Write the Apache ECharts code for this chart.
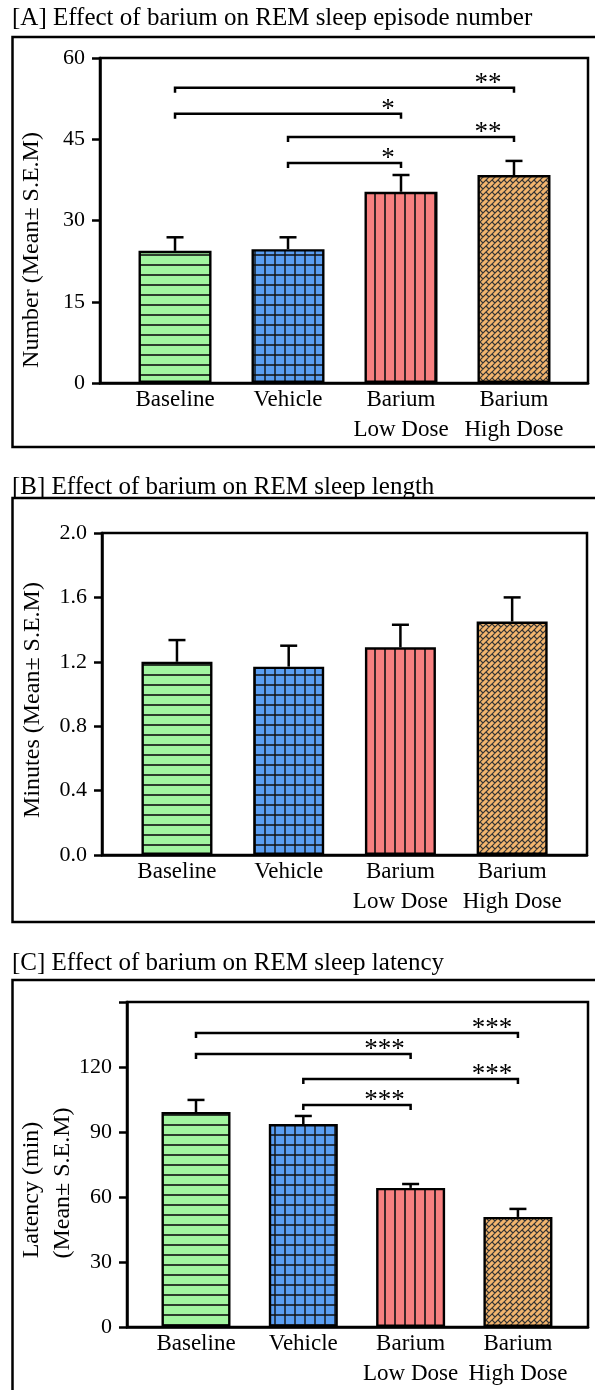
<!DOCTYPE html>
<html><head><meta charset="utf-8">
<script src="https://cdn.jsdelivr.net/npm/echarts@6/dist/echarts.min.js"></script>
<style>html,body{margin:0;padding:0;background:#fff}#c{width:595px;height:1390px}</style>
</head><body><div id="c"></div>
<script>
// ---------- data ----------
const categories = ['Baseline', 'Vehicle', 'Barium\nLow Dose', 'Barium\nHigh Dose'];
const panelTitles = [
  '[A] Effect of barium on REM sleep episode number',
  '[B] Effect of barium on REM sleep length',
  '[C] Effect of barium on REM sleep latency'
];
const axisNames = ['Number (Mean\u00b1 S.E.M)', 'Minutes (Mean\u00b1 S.E.M)', 'Latency (min)', '(Mean\u00b1 S.E.M)'];

const episodeMean = [24.4, 24.7, 35.3, 38.4];
const episodeSem  = [2.5, 2.2, 3.1, 2.6];
const lengthMean  = [1.20, 1.17, 1.29, 1.45];
const lengthSem   = [0.135, 0.13, 0.14, 0.15];
const latencyMean = [99.2, 93.7, 64.2, 50.8];
const latencySem  = [5.6, 3.7, 1.8, 3.7];

// significance brackets: [from category, to category, level, stars]
const episodeSig = [[0, 3, 54.5, '**'], [0, 2, 49.7, '*'], [1, 3, 45.4, '**'], [1, 2, 40.6, '*']];
const latencySig = [[0, 3, 135.7, '***'], [0, 2, 126, '***'], [1, 3, 114.5, '***'], [1, 2, 102.5, '***']];

const episodeAxis = {min: 0, max: 60, interval: 15};
const lengthAxis  = {min: 0, max: 2.0, interval: 0.4};
const latencyAxis = {min: 0, max: 150, interval: 30};

// ---------- styling ----------
const FONT = '"Liberation Serif", "Times New Roman", serif';

function pattern(w, h, fill, draw) {
  const c = document.createElement('canvas');
  c.width = w; c.height = h;
  const ctx = c.getContext('2d');
  ctx.fillStyle = fill; ctx.fillRect(0, 0, w, h);
  draw(ctx, w, h);
  return {image: c, repeat: 'repeat'};
}
const patHoriz = pattern(10, 10, '#a2f5a0', (ctx) => {
  ctx.strokeStyle = '#111'; ctx.lineWidth = 1.6;
  ctx.beginPath(); ctx.moveTo(0, 5); ctx.lineTo(10, 5); ctx.stroke();
});
const patGrid = pattern(10, 10, '#5a9ef2', (ctx) => {
  ctx.strokeStyle = '#111'; ctx.lineWidth = 1.4;
  ctx.beginPath(); ctx.moveTo(0, 5); ctx.lineTo(10, 5); ctx.moveTo(5, 0); ctx.lineTo(5, 10); ctx.stroke();
});
const patVert = pattern(10, 10, '#f88080', (ctx) => {
  ctx.strokeStyle = '#111'; ctx.lineWidth = 1.6;
  ctx.beginPath(); ctx.moveTo(5, 0); ctx.lineTo(5, 10); ctx.stroke();
});
const patBrick = pattern(12, 12, '#f2b56e', (ctx) => {
  ctx.strokeStyle = '#333'; ctx.lineWidth = 1.2;
  ctx.beginPath();
  for (let k = -3; k <= 8; k++) {
    const c = 6 * k;
    ctx.moveTo(c + 20, -20); ctx.lineTo(c - 20, 20); // "/" line x+y=c
    for (let j = -8; j <= 10; j++) {
      const a = 6 * j;
      ctx.moveTo(a, c - a); ctx.lineTo(a + 3, c - a + 3);
    }
  }
  ctx.stroke();
});
const barPatterns = [patHoriz, patGrid, patVert, patBrick];

const panels = [
  {grid: {left: 100, top: 58, width: 488, height: 325}, xr: [-0.664, 3.655], barW: 73, axis: episodeAxis,
   mean: episodeMean, sem: episodeSem, sig: episodeSig, fmt: v => String(v)},
  {grid: {left: 102, top: 533, width: 485, height: 322}, xr: [-0.671, 3.67], barW: 71, axis: lengthAxis,
   mean: lengthMean, sem: lengthSem, sig: [], fmt: v => v.toFixed(1)},
  {grid: {left: 127, top: 1002, width: 461, height: 325}, xr: [-0.643, 3.653], barW: 69, axis: latencyAxis,
   mean: latencyMean, sem: latencySem, sig: latencySig, fmt: v => (v === 150 ? '' : String(v))}
];

const grids = [], xAxes = [], yAxes = [], series = [];
panels.forEach((p, g) => {
  grids.push(Object.assign({show: true, borderColor: '#000', borderWidth: 2.5}, p.grid));
  xAxes.push({
    gridIndex: g, type: 'value', min: p.xr[0], max: p.xr[1],
    axisLine: {show: true, onZero: false, lineStyle: {color: '#000', width: 2.5}},
    axisTick: {show: false}, splitLine: {show: false},
    axisLabel: {customValues: [0, 1, 2, 3], formatter: v => categories[Math.round(v)],
      fontSize: 23, lineHeight: 30, margin: 2, color: '#000', fontFamily: FONT}
  });
  yAxes.push({
    gridIndex: g, type: 'value', min: p.axis.min, max: p.axis.max, interval: p.axis.interval,
    axisLine: {show: true, onZero: false, lineStyle: {color: '#000', width: 2.5}},
    axisTick: {show: true, length: 8, lineStyle: {color: '#000', width: 2.5}},
    splitLine: {show: false},
    axisLabel: {fontSize: 22, margin: 15, color: '#000', fontFamily: FONT, formatter: p.fmt}
  });
  series.push({
    type: 'bar', xAxisIndex: g, yAxisIndex: g, barWidth: p.barW, z: 2,
    data: p.mean.map((m, i) => ({value: [i, m], itemStyle: {color: barPatterns[i], borderColor: '#000', borderWidth: 2.4}}))
  });
  series.push({
    type: 'custom', xAxisIndex: g, yAxisIndex: g, z: 5,
    data: p.mean.map((m, i) => [i, m, m + p.sem[i]]),
    renderItem(params, api) {
      const p0 = api.coord([api.value(0), api.value(1)]);
      const p1 = api.coord([api.value(0), api.value(2)]);
      return {type: 'group', children: [
        {type: 'line', shape: {x1: p0[0], y1: p0[1], x2: p1[0], y2: p1[1]}, style: {stroke: '#000', lineWidth: 2.5}},
        {type: 'line', shape: {x1: p1[0] - 8.5, y1: p1[1], x2: p1[0] + 8.5, y2: p1[1]}, style: {stroke: '#000', lineWidth: 2.5}}
      ]};
    }
  });
  if (p.sig.length) {
    series.push({
      type: 'custom', xAxisIndex: g, yAxisIndex: g, z: 5,
      data: p.sig.map(s => [s[0], s[1], s[2]]),
      renderItem(params, api) {
        const s = p.sig[params.dataIndex];
        const a = api.coord([s[0], s[2]]), b = api.coord([s[1], s[2]]);
        const y = a[1];
        const off = s[3].length === 1 ? 13 : 26;
        return {type: 'group', children: [
          {type: 'polyline', shape: {points: [[a[0], y + 5], [a[0], y], [b[0], y], [b[0], y + 5]]},
           style: {stroke: '#000', lineWidth: 2.5, fill: null}},
          {type: 'text', x: b[0] - off, y: y - 4,
           style: {text: s[3], fill: '#000', font: '27px ' + FONT, textAlign: 'center', align: 'center',
                   textVerticalAlign: 'middle', verticalAlign: 'middle'}}
        ]};
      }
    });
  }
});

function txt(text, x, y, size, rot) {
  return {type: 'text', x: x, y: y, rotation: rot || 0, z: 10,
    style: {text: text, fill: '#000', font: size + 'px ' + FONT,
      textAlign: rot ? 'center' : 'left', align: rot ? 'center' : 'left',
      textVerticalAlign: 'middle', verticalAlign: 'middle'}};
}
function box(y, h) {
  return {type: 'rect', shape: {x: 12.5, y: y, width: 600, height: h}, z: 1,
    style: {fill: null, stroke: '#000', lineWidth: 2.5}};
}
const graphic = [
  box(37, 410), box(498, 424), box(980, 520),
  txt(panelTitles[0], 12, 18, 25), txt(panelTitles[1], 12, 487, 25), txt(panelTitles[2], 12, 963, 25),
  txt(axisNames[0], 32, 250, 24, Math.PI / 2),
  txt(axisNames[1], 33, 700, 24, Math.PI / 2),
  txt(axisNames[2], 32, 1190, 24, Math.PI / 2),
  txt(axisNames[3], 63, 1183, 24, Math.PI / 2)
];

const chart = echarts.init(document.getElementById('c'), null, {renderer: 'canvas'});
chart.setOption({animation: false, backgroundColor: '#fff', grid: grids, xAxis: xAxes, yAxis: yAxes, series: series, graphic: graphic});
</script></body></html>
